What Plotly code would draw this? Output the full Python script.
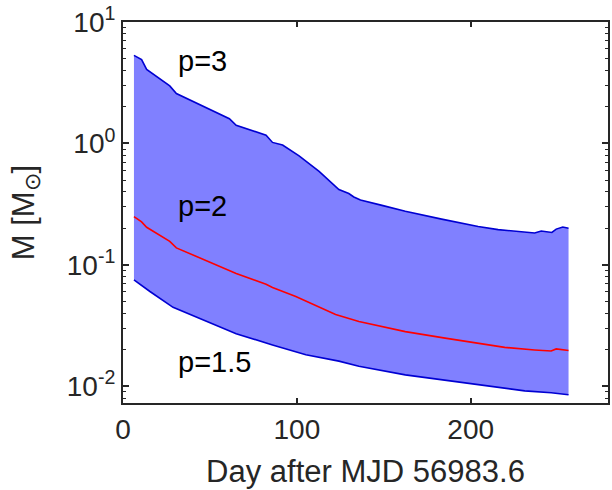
import math
import plotly.graph_objects as go

# Upper bound (p=3)
upper_x = [6.3, 10.7, 13.6, 26.9, 30.7, 61.2, 65.1, 82.3, 86.0, 91.8, 101.3, 112.8,
           124.2, 129.9, 132.8, 136.6, 149.0, 162.4, 183.3, 204.3, 215.8, 236.8,
           240.6, 246.7, 249.2, 253.0, 256.3]
upper_y = [5.32, 4.91, 4.07, 2.98, 2.58, 1.60, 1.41, 1.17, 1.02, 0.97, 0.789, 0.589,
           0.417, 0.387, 0.362, 0.342, 0.309, 0.276, 0.238, 0.207, 0.195, 0.183,
           0.190, 0.185, 0.197, 0.205, 0.200]

# Middle (p=2)
mid_x = [6.3, 10.7, 13.6, 26.9, 30.7, 55.5, 65.1, 82.3, 86.0, 99.4, 122.3, 135.7,
         150.9, 162.4, 185.3, 204.3, 219.6, 236.8, 246.3, 249.2, 256.3]
mid_y = [0.250, 0.226, 0.204, 0.156, 0.138, 0.0964, 0.0850, 0.0692, 0.0650, 0.0549,
         0.0390, 0.0341, 0.0308, 0.0282, 0.0249, 0.0225, 0.0209, 0.0199, 0.0195,
         0.0203, 0.0197]

# Lower bound (p=1.5)
lower_x = [6.3, 10.7, 15.5, 28.8, 44.1, 65.1, 86.0, 105.2, 124.2, 135.7, 162.4,
           185.3, 208.2, 231.1, 246.3, 256.3]
lower_y = [0.0752, 0.0675, 0.0603, 0.0447, 0.0362, 0.0271, 0.0219, 0.0182, 0.0161,
           0.0146, 0.0124, 0.0112, 0.0100, 0.00916, 0.00883, 0.00850]

labels = ["p=3", "p=2", "p=1.5"]
label_x = [30.7, 30.7, 30.7]
label_y = [4.75, 0.307, 0.0157]

x_ticks = [0, 100, 200]
y_ticks = [0.01, 0.1, 1, 10]
y_ticktext = ["10<sup>-2</sup>", "10<sup>-1</sup>", "10<sup>0</sup>", "10<sup>1</sup>"]

minor_vals = []
for dec in [0.001, 0.01, 0.1, 1]:
    for k in range(2, 10):
        minor_vals.append(k * dec)

fig = go.Figure()
fig.add_trace(go.Scatter(
    x=lower_x + upper_x[::-1], y=lower_y + upper_y[::-1],
    fill="toself", fillcolor="rgb(128,128,255)", line=dict(width=0),
    mode="lines", hoverinfo="skip", showlegend=False))
fig.add_trace(go.Scatter(x=upper_x, y=upper_y, mode="lines",
                         line=dict(color="rgb(0,0,210)", width=1.6), showlegend=False))
fig.add_trace(go.Scatter(x=lower_x, y=lower_y, mode="lines",
                         line=dict(color="rgb(0,0,210)", width=1.6), showlegend=False))
fig.add_trace(go.Scatter(x=mid_x, y=mid_y, mode="lines",
                         line=dict(color="rgb(255,0,0)", width=1.6), showlegend=False))

for t, xx, yy in zip(labels, label_x, label_y):
    fig.add_annotation(x=xx, y=math.log10(yy), yref="y", xref="x", text=t, showarrow=False,
                       xanchor="left", yanchor="middle",
                       font=dict(family="Liberation Sans, Arial", size=29, color="black"))

axis_col = "#262626"
fig.update_layout(
    width=612, height=490,
    margin=dict(l=123, r=2, t=17, b=87),
    plot_bgcolor="white", paper_bgcolor="white",
    font=dict(family="Liberation Sans, Arial", size=28, color=axis_col),
    xaxis=dict(range=[0, 279], tickvals=x_ticks, ticks="inside", ticklen=5,
               tickwidth=1.5, tickcolor=axis_col, showline=True, linecolor=axis_col,
               linewidth=2, mirror="ticks", showgrid=False, zeroline=False,
               ticklabeloverflow="allow",
               title=dict(text="Day after MJD 56983.6", font=dict(size=31), standoff=17)),
    yaxis=dict(type="log", range=[-2.138, 1.0005], tickvals=y_ticks, ticktext=y_ticktext,
               ticks="inside", ticklen=6, tickwidth=1.5, tickcolor=axis_col,
               showline=True, linecolor=axis_col, linewidth=2, mirror="ticks",
               showgrid=False, zeroline=False, ticklabeloverflow="allow",
               minor=dict(tickvals=minor_vals, ticks="inside", ticklen=3,
                          tickwidth=1, tickcolor=axis_col, showgrid=False),
               title=dict(text="M [M<sub>⊙</sub>]", font=dict(size=31), standoff=23)),
)

fig.write_html("out.html")
